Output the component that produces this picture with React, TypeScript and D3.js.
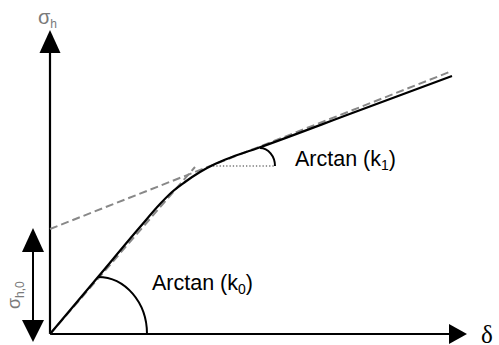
import React from "react";
import * as d3 from "d3";

// Conceptual load-displacement curve (units: arbitrary)
const curveDelta = [0, 48, 90, 110, 122, 135, 150, 165, 182, 208, 305, 402];
const curveSigma = [0, 57, 107, 130, 142, 152, 162, 170, 177, 186, 222, 258];

// Initial tangent (slope k0) and final tangent (slope k1), dashed
const tangent0Delta = [0, 145];
const tangent0Sigma = [0, 167];
const tangent1Delta = [0, 402];
const tangent1Sigma = [105, 263];

// Horizontal dotted reference at the k1 angle
const dottedDelta = [163, 225];
const dottedSigma = [168, 168];

// sigma_h,0 intercept
const sigmaH0 = [0, 105];

const W = 499;
const H = 345;

export default function App() {
  const x = d3.scaleLinear().domain([0, 420]).range([50, 470]);
  const y = d3.scaleLinear().domain([0, 310]).range([334, 24]);

  const pts = (ds: number[], ss: number[]) => ds.map((d, i) => [d, ss[i]] as [number, number]);
  const line = d3
    .line<[number, number]>()
    .x((d) => x(d[0]))
    .y((d) => y(d[1]));
  const smooth = d3
    .line<[number, number]>()
    .x((d) => x(d[0]))
    .y((d) => y(d[1]))
    .curve(d3.curveMonotoneX);

  const x0 = x(0);
  const y0 = y(0);

  // ellipse arcs (quarter)
  const arc0cx = x(48), arc0cy = y(0), arc0rx = x(97) - x(48), arc0ry = y(0) - y(57);
  const arc1cx = x(210), arc1cy = y(168), arc1rx = x(225) - x(210), arc1ry = y(168) - y(186);

  const gray = "#7a7a7a";
  const sans = "'Liberation Sans', Arial, sans-serif";

  return (
    <svg width={W} height={H} style={{ position: "absolute", left: 0, top: 0, background: "#fff" }}>
      {/* y axis */}
      <line x1={x0} y1={y0} x2={x0} y2={52} stroke="#000" strokeWidth={2.2} />
      <path d={`M${x0},30 L${x0 - 10.5},53 L${x0 + 10.5},53 Z`} fill="#000" />
      {/* x axis */}
      <line x1={x0} y1={y0} x2={450} y2={y0} stroke="#000" strokeWidth={2.2} />
      <path d={`M467,${y0} L449,${y0 - 10} L449,${y0 + 10} Z`} fill="#000" />

      {/* sigma_h,0 double arrow */}
      <line x1={33} y1={y(sigmaH0[1]) + 20} x2={33} y2={y(sigmaH0[0]) - 12} stroke="#000" strokeWidth={2} />
      <path d={`M33,${y(sigmaH0[1]) - 1} L22,${y(sigmaH0[1]) + 23} L44,${y(sigmaH0[1]) + 23} Z`} fill="#000" />
      <path d={`M33,${y(sigmaH0[0]) + 8} L22,${y(sigmaH0[0]) - 14} L44,${y(sigmaH0[0]) - 14} Z`} fill="#000" />

      {/* dashed tangents */}
      <path d={line(pts(tangent0Delta, tangent0Sigma)) || ""} fill="none" stroke="#888" strokeWidth={2} strokeDasharray="8,4" />
      <path d={line(pts(tangent1Delta, tangent1Sigma)) || ""} fill="none" stroke="#888" strokeWidth={2} strokeDasharray="8,4" />
      {/* dotted */}
      <path d={line(pts(dottedDelta, dottedSigma)) || ""} fill="none" stroke="#777" strokeWidth={1.3} strokeDasharray="1.3,2" />

      {/* main curve */}
      <path d={smooth(pts(curveDelta, curveSigma)) || ""} fill="none" stroke="#000" strokeWidth={2.2} />

      {/* angle arcs */}
      <path
        d={`M${arc0cx},${arc0cy - arc0ry} A${arc0rx},${arc0ry} 0 0 1 ${arc0cx + arc0rx},${arc0cy}`}
        fill="none"
        stroke="#000"
        strokeWidth={2}
      />
      <path
        d={`M${arc1cx},${arc1cy - arc1ry} A${arc1rx},${arc1ry} 0 0 1 ${arc1cx + arc1rx},${arc1cy}`}
        fill="none"
        stroke="#000"
        strokeWidth={2}
      />

      {/* labels */}
      <text x={38} y={24} fill={gray} fontFamily={sans} fontSize={20}>
        σ<tspan fontSize={12} dy={4}>h</tspan>
      </text>
      <text transform="translate(20,309) rotate(-90)" fill={gray} fontFamily={sans} fontSize={18}>
        σ<tspan fontSize={12} dy={4}>h,0</tspan>
      </text>
      <text x={295} y={166} fill="#000" fontFamily={sans} fontSize={21.5}>
        Arctan (k<tspan fontSize={14} dy={4}>1</tspan><tspan dy={-4}>)</tspan>
      </text>
      <text x={152} y={290} fill="#000" fontFamily={sans} fontSize={21.5}>
        Arctan (k<tspan fontSize={14} dy={4}>0</tspan><tspan dy={-4}>)</tspan>
      </text>
      <text x={481} y={343} fill="#000" fontFamily="'Liberation Serif', 'Times New Roman', serif" fontSize={25}>
        δ
      </text>
    </svg>
  );
}
